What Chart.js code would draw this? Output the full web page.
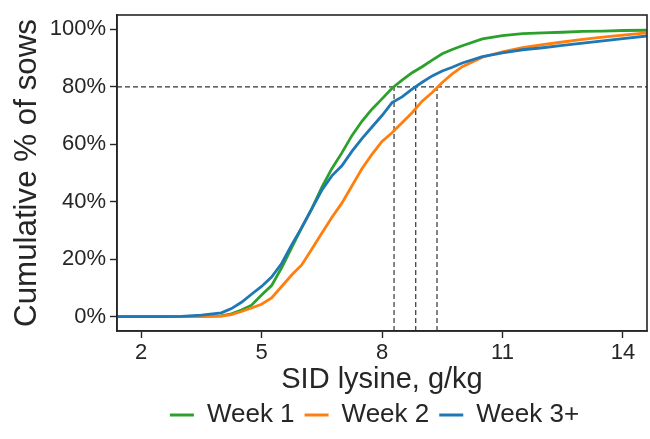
<!DOCTYPE html>
<html>
<head>
<meta charset="utf-8">
<script src="https://cdn.jsdelivr.net/npm/chart.js@4"></script>
<style>
  html, body { margin: 0; padding: 0; background: #fff; }
  #wrap { width: 650px; height: 439px; }
</style>
</head>
<body>
<div id="wrap"><canvas id="cdfChart" width="650" height="439"></canvas></div>
<script>
// SID lysine, g/kg (x positions of the curve points)
const lysine = [1.4, 2, 2.5, 3, 3.5, 4, 4.25, 4.5, 4.75, 5, 5.25, 5.5, 5.75, 6, 6.25, 6.5, 6.75, 7, 7.25, 7.5, 7.75, 8, 8.25, 8.5, 8.75, 9, 9.25, 9.5, 9.75, 10, 10.5, 11, 11.5, 12, 12.5, 13, 13.5, 14, 14.6];

// Cumulative % of sows per week
const week1 = [0, 0, 0, 0, 0.1, 0.3, 1, 2.3, 4, 7.5, 10.8, 17, 24, 31, 37.5, 45, 51.5, 57, 63, 68, 72.2, 75.8, 79.5, 82.3, 84.9, 87, 89.3, 91.5, 93, 94.3, 96.7, 97.8, 98.5, 98.8, 99, 99.3, 99.4, 99.6, 99.7];
const week2 = [0, 0, 0, 0, 0.1, 0.2, 0.7, 1.8, 3, 4.3, 6.5, 10.5, 14.5, 18, 23.5, 29, 34.5, 39.5, 45.5, 51.5, 56.5, 61, 64, 67.5, 71, 75, 78, 81.5, 84.5, 87, 90.3, 92.2, 93.6, 94.7, 95.6, 96.5, 97.3, 98, 98.8];
const week3 = [0, 0, 0, 0.1, 0.5, 1.3, 2.8, 5, 7.8, 10.5, 13.8, 18.5, 25, 31, 37.5, 44, 49, 52.5, 57.5, 62, 66, 70, 74.5, 76.5, 79.2, 81.6, 83.8, 85.5, 86.8, 88.3, 90.5, 91.8, 92.9, 93.6, 94.4, 95.2, 96, 96.8, 97.7];

const seriesNames = ['Week 1', 'Week 2', 'Week 3+'];
const seriesColors = ['#2ca02c', '#ff7f0e', '#1f77b4'];

// reference lines: 80% level and where each week reaches it
const refLevel = 80;
const refX = [8.30, 8.84, 9.37];
const xRange = [1.4, 14.6];
const yRange = [-5, 105];

const xTicks = [2, 5, 8, 11, 14];
const yTicks = [0, 20, 40, 60, 80, 100];

const toPoints = (ys) => ys.map((y, i) => ({ x: lysine[i], y: y }));

const datasets = [week1, week2, week3].map((ys, i) => ({
    label: seriesNames[i],
    data: toPoints(ys),
    borderColor: seriesColors[i],
    backgroundColor: seriesColors[i],
    borderWidth: 2.8,
    pointRadius: 0,
    tension: 0,
    order: 3 - i
}));

const refStyle = {
    borderColor: '#333',
    borderWidth: 1.2,
    borderDash: [5, 3],
    pointRadius: 0,
    order: 10,
    isRef: true
};
datasets.push(Object.assign({ label: 'ref', data: [{ x: xRange[0], y: refLevel }, { x: xRange[1], y: refLevel }] }, refStyle));
refX.forEach(x => {
    datasets.push(Object.assign({ label: 'ref', data: [{ x: x, y: yRange[0] }, { x: x, y: refLevel }] }, refStyle));
});

// box around the plot area (top + right spines)
const frame = {
    id: 'frame',
    afterDatasetsDraw(chart) {
        const a = chart.chartArea, ctx = chart.ctx;
        ctx.save();
        ctx.strokeStyle = '#262626';
        ctx.lineWidth = 1.6;
        ctx.strokeRect(a.left, a.top, a.right - a.left, a.bottom - a.top);
        ctx.restore();
    }
};

// legend sits a bit right of the canvas centre in the original
const legendShift = {
    id: 'legendShift',
    afterLayout(chart) {
        chart.legend.left += 51;
        chart.legend.right += 51;
        chart.legend.top += 2;
        chart.legend.bottom += 2;
    }
};

const font = "'Liberation Sans', Arial, sans-serif";

new Chart(document.getElementById('cdfChart'), {
    type: 'line',
    data: { datasets: datasets },
    options: {
        responsive: false,
        animation: false,
        layout: { padding: { top: 10, right: 3, left: 0, bottom: 3 } },
        plugins: {
            legend: {
                position: 'bottom',
                labels: {
                    font: { family: font, size: 26 },
                    color: '#262626',
                    boxWidth: 24,
                    boxHeight: 3,
                    padding: 10,
                    filter: (item, data) => !data.datasets[item.datasetIndex].isRef,
                    sort: (a, b) => a.datasetIndex - b.datasetIndex,
                    generateLabels(chart) {
                        const items = Chart.defaults.plugins.legend.labels.generateLabels(chart);
                        items.forEach(it => { it.lineWidth = 0; });
                        return items;
                    }
                }
            },
            tooltip: { enabled: false }
        },
        scales: {
            x: {
                type: 'linear',
                min: xRange[0],
                max: xRange[1],
                afterBuildTicks: (s) => { s.ticks = xTicks.map(v => ({ value: v })); },
                afterFit: (s) => { s.height = 59; },
                grid: { drawOnChartArea: false, tickLength: 7, color: '#262626', tickWidth: 1.4 },
                border: { color: '#262626', width: 1.6 },
                ticks: { font: { family: font, size: 22 }, color: '#262626', padding: 2, maxRotation: 0 },
                title: {
                    display: true,
                    text: 'SID lysine, g/kg',
                    font: { family: font, size: 29, lineHeight: 0.7 },
                    color: '#262626',
                    padding: { top: 0, bottom: 0 }
                }
            },
            y: {
                type: 'linear',
                min: yRange[0],
                max: yRange[1],
                afterBuildTicks: (s) => { s.ticks = yTicks.map(v => ({ value: v })); },
                afterFit: (s) => { s.width = 117; },
                grid: { drawOnChartArea: false, tickLength: 7, color: '#262626', tickWidth: 1.4 },
                border: { color: '#262626', width: 1.6 },
                ticks: { font: { family: font, size: 22, lineHeight: 1 }, color: '#262626', padding: 4, callback: v => v + '%' },
                title: {
                    display: true,
                    text: 'Cumulative % of sows',
                    font: { family: font, size: 31.3, lineHeight: 1 },
                    color: '#262626',
                    padding: { top: 12, bottom: 0 }
                }
            }
        }
    },
    plugins: [frame, legendShift]
});
</script>
</body>
</html>
